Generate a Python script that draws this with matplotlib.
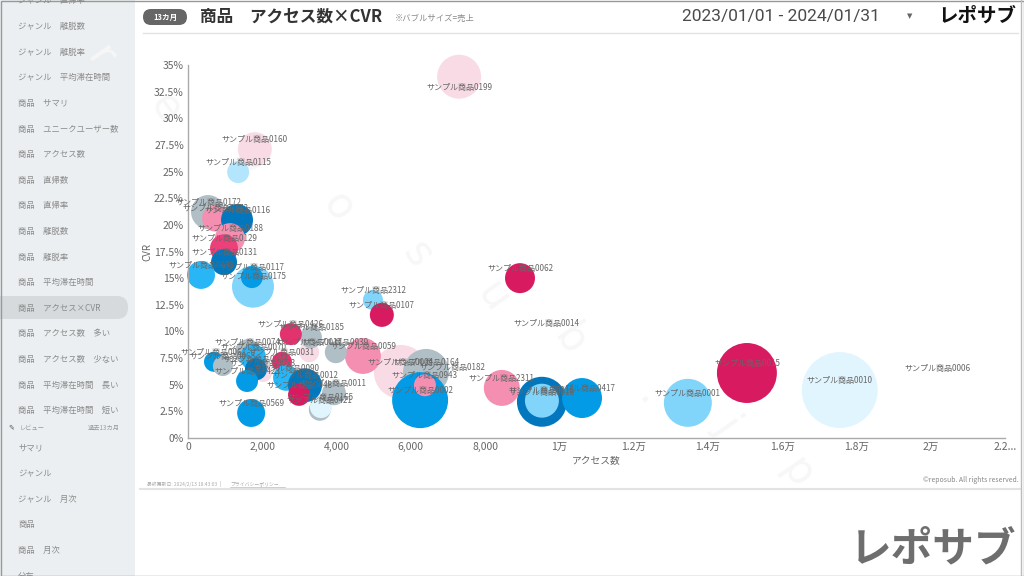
import matplotlib
matplotlib.use("Agg")
import matplotlib.pyplot as plt
from matplotlib.patches import FancyBboxPatch, Rectangle
import numpy as np

plt.rcParams['font.family'] = ['Noto Sans CJK JP', 'DejaVu Sans']

# ---------------- data ----------------
names = ['0010', '0015', '0001', '0018', '0118', '0417', '2311', '0004', '0164', '0002',
         '0943', '0182', '0062', '0014', '0006', '0199', '0160', '0115', '0172', '0173',
         '0116', '0188', '0129', '0131', '0198', '0175', '0117', '2312', '0107', '0059',
         '0939', '0017', '0185', '0426', '0074', '0070', '0061', '0068', '0033', '0934',
         '0031', '0423', '0090', '0421', '0165', '0011', '0012', '0048', '0569']
access = [17550, 15050, 13460, 9530, 9530, 10610, 8450, 5730, 6410, 6250,
          6380, 7110, 8940, 9640, 20190, 7300, 1800, 1350, 540, 730,
          1320, 1130, 970, 970, 350, 1750, 1720, 4980, 5220, 4710,
          3980, 3260, 3310, 2770, 1610, 1750, 700, 940, 2020, 1830,
          2530, 1590, 2640, 3550, 3580, 3930, 3150, 2990, 1700]
cvr = [4.5, 6.1, 3.3, 3.4, 3.5, 3.75, 4.7, 6.2, 6.2, 3.55,
       4.95, 5.7, 15.0, 9.85, 5.6, 33.9, 27.1, 24.95, 21.2, 20.6,
       20.45, 18.75, 17.8, 16.5, 15.3, 14.2, 15.1, 12.95, 11.55, 7.7,
       8.05, 8.05, 9.45, 9.75, 8.05, 7.6, 7.15, 6.75, 6.1, 6.45,
       7.15, 5.35, 5.65, 2.65, 2.9, 4.2, 4.95, 4.05, 2.35]
sales = [1444, 900, 576, 625, 289, 400, 324, 729, 529, 784,
         121, 0, 225, 0, 0, 484, 289, 121, 289, 169,
         256, 225, 196, 169, 196, 441, 121, 100, 144, 324,
         121, 100, 121, 121, 169, 169, 100, 100, 81, 121,
         100, 121, 169, 121, 121, 144, 289, 121, 196]

LP, PK, CP, CR = '#f9dbe5', '#f48fb1', '#ec407a', '#d81b60'
VLB, PB, LB, BB, BL, DB, GR = '#e1f5fe', '#b3e5fc', '#81d4fa', '#29b6f6', '#039be5', '#0277bd', '#b0bec5'
colors = [VLB, CR, LB, DB, LB, BL, PK, LP, GR, BL,
          PK, GR, CR, GR, GR, LP, LP, PB, GR, PK,
          DB, PK, CP, DB, BB, LB, BL, LB, CR, PK,
          GR, LP, GR, '#e3336f', GR, BB, BL, GR, LP, DB,
          '#e3336f', BL, BB, GR, VLB, GR, DB, CR, BL]

xticks = [0, 2000, 4000, 6000, 8000, 10000, 12000, 14000, 16000, 18000, 20000, 22000]
xtick_labels = ['0', '2,000', '4,000', '6,000', '8,000', '1万', '1.2万', '1.4万', '1.6万', '1.8万', '2万', '2.2...']
yticks = [0, 2.5, 5, 7.5, 10, 12.5, 15, 17.5, 20, 22.5, 25, 27.5, 30, 32.5, 35]
ytick_labels = ['0%', '2.5%', '5%', '7.5%', '10%', '12.5%', '15%', '17.5%', '20%', '22.5%',
                '25%', '27.5%', '30%', '32.5%', '35%']

menu_items = ['ジャンル　直帰率', 'ジャンル　離脱数', 'ジャンル　離脱率', 'ジャンル　平均滞在時間',
              '商品　サマリ', '商品　ユニークユーザー数', '商品　アクセス数', '商品　直帰数',
              '商品　直帰率', '商品　離脱数', '商品　離脱率', '商品　平均滞在時間',
              '商品　アクセス×CVR', '商品　アクセス数　多い', '商品　アクセス数　少ない',
              '商品　平均滞在時間　長い', '商品　平均滞在時間　短い']
review_items = ['サマリ', 'ジャンル', 'ジャンル　月次', '商品', '商品　月次', '分布']

# ---------------- figure ----------------
fig = plt.figure(figsize=(10.24, 5.76), dpi=100)
bg = fig.add_axes([0, 0, 1, 1], zorder=-1)
bg.set_xlim(0, 1024)
bg.set_ylim(576, 0)
bg.axis('off')

# sidebar
bg.add_patch(Rectangle((0, 0), 135, 576, color='#eceff1', lw=0))
bg.add_patch(FancyBboxPatch((-20, 296), 148, 23, boxstyle='round,pad=0,rounding_size=11',
                            fc='#d6dadd', ec='none'))
for i, t in enumerate(menu_items):
    bg.text(18, 1 + i * 25.6, t, fontsize=6, color='#8a8a8a', va='center', ha='left')
bg.text(8, 427, '✎', fontsize=5, color='#555', va='center', family=['DejaVu Sans'])
bg.text(20, 428, 'レビュー', fontsize=4.5, color='#999', va='center')
bg.text(120, 428, '過去13カ月', fontsize=4.5, color='#999', va='center', ha='right')
for i, t in enumerate(review_items[:-1]):
    bg.text(18, 448 + i * 25.5, t, fontsize=6, color='#8a8a8a', va='center', ha='left')
bg.text(18, 572, review_items[-1], fontsize=6, color='#8a8a8a', va='top', ha='left')

# watermark letters
for ch, (wx, wy) in zip('reposub.jp', [(100, 57), (165, 108), (250, 160), (338, 207), (417, 255),
                                         (493, 297), (570, 340), (650, 397), (727, 425), (797, 473)]):
    bg.text(wx, wy, ch, fontsize=30, color='#f7f7f7', rotation=-55, ha='center', va='center',
            family=['DejaVu Sans'])

# header
bg.add_patch(FancyBboxPatch((143, 9), 44, 16, boxstyle='round,pad=0,rounding_size=8',
                            fc='#666666', ec='none'))
bg.text(165, 17, '13カ月', fontsize=5.5, color='white', ha='center', va='center', weight='bold')
bg.text(200, 17, '商品　アクセス数×CVR', fontsize=12, color='#333', ha='left', va='center', weight='bold')
bg.text(395, 18, '※バブルサイズ=売上', fontsize=6, color='#888', ha='left', va='center')
bg.text(880, 17, '2023/01/01 - 2024/01/31', fontsize=12.5, color='#4a4a4a', ha='right', va='center',
        family=['Roboto'])
bg.text(910, 16, '▼', fontsize=5, color='#666', ha='center', va='center', family=['DejaVu Sans'])
bg.text(1016, 16, 'レポサブ', fontsize=14, color='#111', ha='right', va='center', weight='bold')
bg.plot([143, 1018], [33, 33], color='#e3e3e3', lw=1)

# footer
bg.text(147, 484, '最終更新日: 2024/2/13 18:43:03  |  ', fontsize=3.5, color='#aaa', ha='left', va='center')
bg.text(230, 484, 'プライバシーポリシー', fontsize=3.5, color='#aaa', ha='left', va='center')
bg.plot([230, 285], [487, 487], color='#bbb', lw=0.5)
bg.text(1019, 480, '©reposub. All rights reserved.', fontsize=5, color='#888', ha='right', va='center')
bg.plot([140, 1020], [489, 489], color='#e3e3e3', lw=1.5)
bg.text(1016, 549, 'レポサブ', fontsize=30, color='#6e6e6e', ha='right', va='center', weight='bold')
bg.plot([1021, 1021], [0, 576], color='#bbbbbb', lw=1)
bg.add_patch(Rectangle((0.5, 0.5), 1023, 575, fill=False, ec='#999999', lw=1))

# ---------------- chart ----------------
ax = fig.add_axes([188 / 1024, (576 - 438) / 576, (1005 - 188) / 1024, (438 - 65) / 576])
ax.set_facecolor('none')
ax.set_xlim(0, 22000)
ax.set_ylim(0, 35)
s = np.array(sales) * 2.07
ax.scatter(access, cvr, s=s, c=colors, linewidths=0, zorder=2, clip_on=False)
for n, xv, yv in zip(names, access, cvr):
    off = -8 if yv > 33 else 7
    ax.annotate('サンプル商品' + n, (xv, yv), xytext=(0, off), textcoords='offset points',
                ha='center', va='center', fontsize=5.8, color='#666', zorder=5,
                annotation_clip=False)

for sp in ['top', 'right']:
    ax.spines[sp].set_visible(False)
for sp in ['left', 'bottom']:
    ax.spines[sp].set_color('#aaaaaa')
    ax.spines[sp].set_linewidth(1)
ax.set_xticks(xticks)
ax.set_xticklabels(xtick_labels)
ax.set_yticks(yticks)
ax.set_yticklabels(ytick_labels)
ax.tick_params(length=0, labelsize=7.5, colors='#666', pad=3)
ax.set_xlabel('アクセス数', fontsize=7, color='#666', labelpad=3)
ax.set_ylabel('CVR', fontsize=7, color='#666', style='italic', labelpad=1)

fig.savefig('out.png', dpi=100)
